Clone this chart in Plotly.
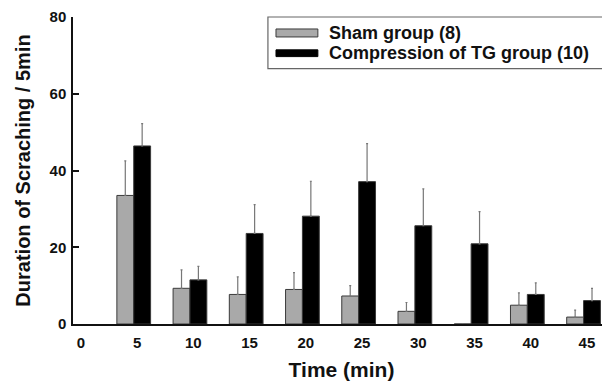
import plotly.graph_objects as go

time_min = [5, 10, 15, 20, 25, 30, 35, 40, 45]
sham = [33.5, 9.3, 7.7, 9.0, 7.3, 3.3, 0.0, 4.9, 1.8]
sham_err = [9.0, 4.8, 4.6, 4.4, 2.7, 2.3, 0.0, 3.2, 1.8]
tg = [46.4, 11.5, 23.6, 28.1, 37.1, 25.6, 20.9, 7.7, 6.1]
tg_err = [5.8, 3.5, 7.5, 9.1, 9.9, 9.6, 8.4, 3.0, 3.2]
x_ticks = [0, 5, 10, 15, 20, 25, 30, 35, 40, 45]
y_ticks = [0, 20, 40, 60, 80]
names = ["Sham group (8)", "Compression of TG group (10)"]

FONT = "Arial, Liberation Sans, sans-serif"
zeros = [0] * len(time_min)

fig = go.Figure()
fig.add_trace(go.Bar(
    x=time_min, y=sham, name=names[0], width=1.5, offset=-1.8,
    marker=dict(color="#a9a9a9", line=dict(color="#3a3a3a", width=1)),
    error_y=dict(type="data", array=sham_err, arrayminus=zeros, symmetric=False,
                 color="#777777", thickness=1.2, width=1),
    showlegend=False,
))
fig.add_trace(go.Bar(
    x=time_min, y=tg, name=names[1], width=1.5, offset=-0.3,
    marker=dict(color="#000000", line=dict(color="#3a3a3a", width=1)),
    error_y=dict(type="data", array=tg_err, arrayminus=zeros, symmetric=False,
                 color="#777777", thickness=1.2, width=1),
    showlegend=False,
))

# manual legend (box, swatches, labels)
fig.add_shape(type="rect", xref="paper", yref="paper", x0=0.363, x1=0.987, y0=0.832, y1=1.0,
              line=dict(color="#666666", width=1.2), fillcolor="white", layer="above")
fig.add_shape(type="rect", xref="paper", yref="paper", x0=0.378, x1=0.456, y0=0.935, y1=0.961,
              line=dict(color="#3a3a3a", width=1), fillcolor="#a9a9a9", layer="above")
fig.add_shape(type="rect", xref="paper", yref="paper", x0=0.378, x1=0.456, y0=0.871, y1=0.893,
              line=dict(color="#000000", width=1), fillcolor="#000000", layer="above")
for label, yy in zip(names, [0.948, 0.882]):
    fig.add_annotation(text=label, xref="paper", yref="paper", x=0.473, y=yy,
                       xanchor="left", yanchor="middle", showarrow=False,
                       font=dict(family=FONT, size=18, color="#111111", weight="bold"))

fig.update_layout(
    width=602, height=373,
    margin=dict(l=65, r=0, t=9, b=57, autoexpand=False),
    plot_bgcolor="white", paper_bgcolor="white",
    barmode="overlay",
    font=dict(family=FONT, color="#111111"),
    xaxis=dict(
        range=[-0.7, 47.05], tickmode="array", tickvals=x_ticks,
        ticks="", showgrid=False, zeroline=False,
        showline=True, linecolor="#111111", linewidth=1.5,
        tickfont=dict(family=FONT, size=15, weight="bold"),
        ticklabelstandoff=4, ticklabeloverflow="allow",
        title=dict(text="Time (min)", font=dict(family=FONT, size=21, weight="bold"), standoff=13),
    ),
    yaxis=dict(
        range=[0, 80], tickmode="array", tickvals=y_ticks,
        ticks="inside", ticklen=6, tickcolor="#111111", tickwidth=1.5,
        showgrid=False, zeroline=False,
        showline=True, linecolor="#111111", linewidth=1.5,
        tickfont=dict(family=FONT, size=15, weight="bold"),
        ticklabelstandoff=2, ticklabeloverflow="allow",
        title=dict(text="Duration of Scraching / 5min", font=dict(family=FONT, size=20, weight="bold"), standoff=14),
    ),
)

fig.write_html("out.html")
